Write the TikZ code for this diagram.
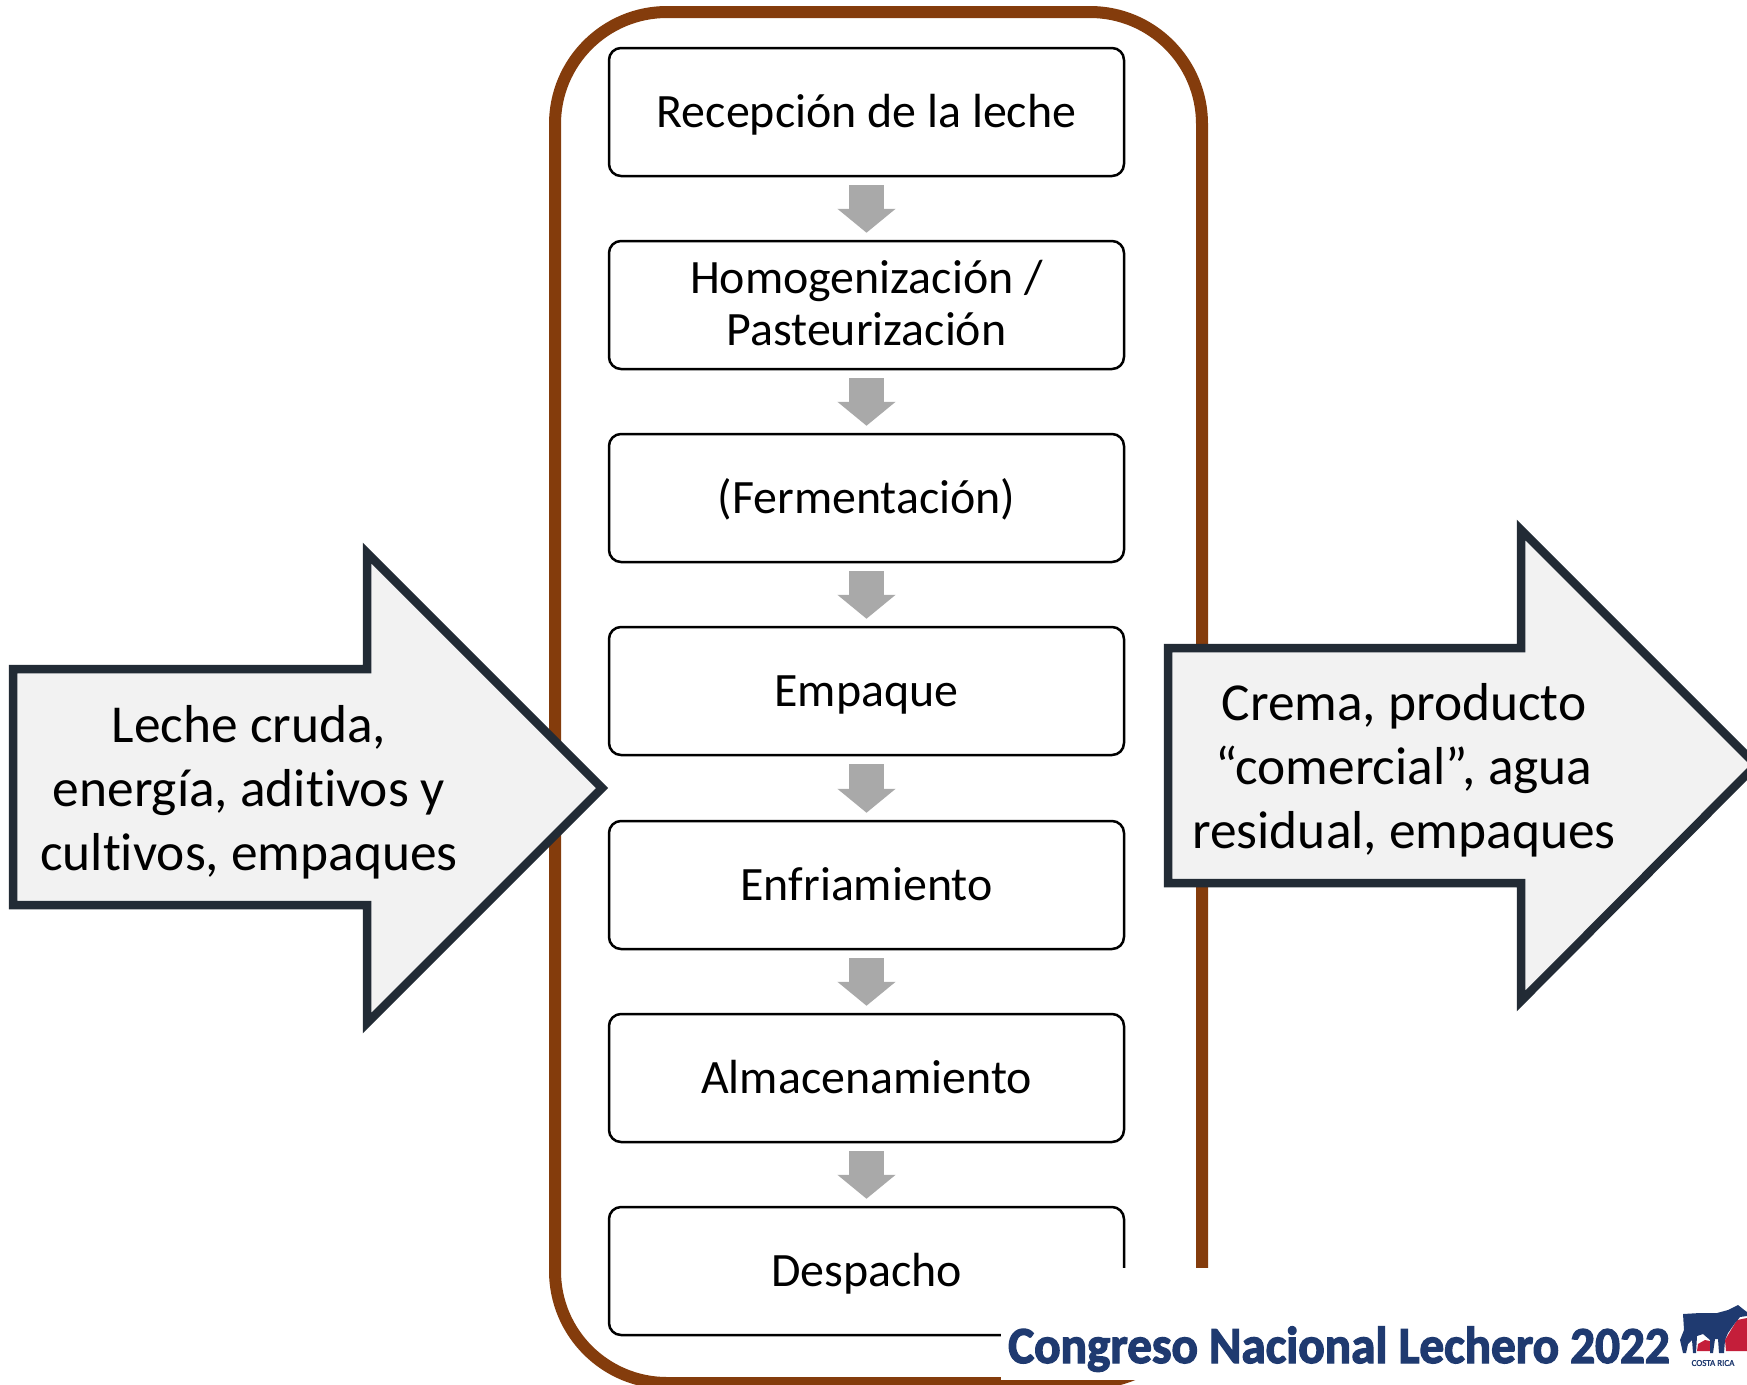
\documentclass[tikz,border=0pt]{standalone}
\usepackage{fontspec}
\setmainfont{Carlito}[Ligatures=NoCommon]
\newfontfamily\logofont{Carlito}[Ligatures=NoCommon,BoldFeatures={FakeBold=2.5,FakeStretch=0.945}]
\newfontfamily\logosmall{Carlito}[FakeBold=1.5]
\usetikzlibrary{arrows.meta}
\definecolor{frameBrown}{HTML}{843C0C}
\definecolor{arrowGray}{HTML}{A9A9A9}
\definecolor{bigStroke}{HTML}{222B35}
\definecolor{bigFill}{HTML}{F2F2F2}
\definecolor{logoBlue}{HTML}{1F3A70}
\definecolor{logoRed}{HTML}{C41E3A}
\tikzset{
  procbox/.style={draw=black,fill=white,line width=2.5pt,rounded corners=12pt,
    minimum width=515pt,minimum height=128pt,inner sep=0pt,align=center,
    font=\fontsize{47.9}{52}\selectfont},
  singlebox/.style={procbox,text height=39pt,text depth=9pt},
  flowarrow/.style={draw=arrowGray,line width=35pt,shorten <=8pt,shorten >=7pt,
    -{Triangle[width'=57pt,length=24pt]}},
  bigarrow/.style={draw=bigStroke,fill=bigFill,line width=8.5pt,miter limit=10,line join=miter},
  bigtext/.style={inner sep=0pt,align=center,font=\fontsize{53.4}{64}\selectfont}
}
\begin{document}
\begin{tikzpicture}[x=1pt,y=-1pt]
\clip (0,0) rectangle (1747,1384);
\fill[white] (0,0) rectangle (1747,1384);
% frame
\draw[frameBrown,line width=12pt,rounded corners=112pt] (555,12) rectangle (1202,1383);
% process boxes
\node[singlebox] (b1) at (866.5,112) {Recepción de la leche};
\node[procbox,text height=85pt,text depth=5pt] (b2) at (866.5,305) {Homogenización /\\Pasteurización};
\node[singlebox] (b3) at (866.5,498) {(Fermentación)};
\node[singlebox] (b4) at (866.5,691) {Empaque};
\node[singlebox] (b5) at (866.5,885) {Enfriamiento};
\node[singlebox] (b6) at (866.5,1078) {Almacenamiento};
\node[singlebox] (b7) at (866.5,1271) {Despacho};
\foreach \a/\b in {b1/b2,b2/b3,b3/b4,b4/b5,b5/b6,b6/b7}
  \draw[flowarrow] (\a.south) -- (\b.north);
% input arrow
\draw[bigarrow] (13,669) -- (367,669) -- (367,553) -- (602,788) -- (367,1023) -- (367,905) -- (13,905) -- cycle;
\node[bigtext] (inText) at (249,792) {Leche cruda,\\energía, aditivos y\\cultivos, empaques};
% output arrow
\draw[bigarrow] (1168,648) -- (1521,648) -- (1521,530) -- (1756,765) -- (1521,1001) -- (1521,883) -- (1168,883) -- cycle;
\node[bigtext] (outText) at (1404,770) {Crema, producto\\“comercial”, agua\\residual, empaques};
% logo area
\fill[white] (1000.5,1268) rectangle (1747,1380);
\node[inner sep=0pt,text=logoBlue,font=\logofont\bfseries\fontsize{52}{60}\selectfont,anchor=base west] (logo) at (1008,1363) {Congreso Nacional Lechero 2022};
\fill[logoRed] (1725,1340) -- (1737,1320) -- (1747,1318) -- (1747,1351) -- (1726,1351) -- cycle;
\fill[logoRed] (1697,1351) -- (1698,1344) -- (1705,1340) -- (1710,1341) -- (1710,1351) -- cycle;
\fill[logoBlue] (1683,1314) -- (1700,1313) -- (1717,1313) -- (1728,1310) -- (1738,1305) -- (1743,1309) -- (1747,1312) -- (1747,1316) -- (1740,1317) -- (1735,1323) -- (1728,1333) -- (1725,1340) -- (1724,1353) -- (1719,1353) -- (1718,1339) -- (1715,1339) -- (1713,1353) -- (1710,1353) -- (1710,1340) -- (1703,1334) -- (1697,1336) -- (1696,1353) -- (1693,1353) -- (1692,1340) -- (1688,1344) -- (1686,1353) -- (1683,1353) -- (1680,1340) -- (1684,1330) -- cycle;
\node[inner sep=0pt,text=logoBlue,font=\logosmall\fontsize{9}{10}\selectfont] (logoCr) at (1713,1363) {COSTA RICA};
\end{tikzpicture}
\end{document}
